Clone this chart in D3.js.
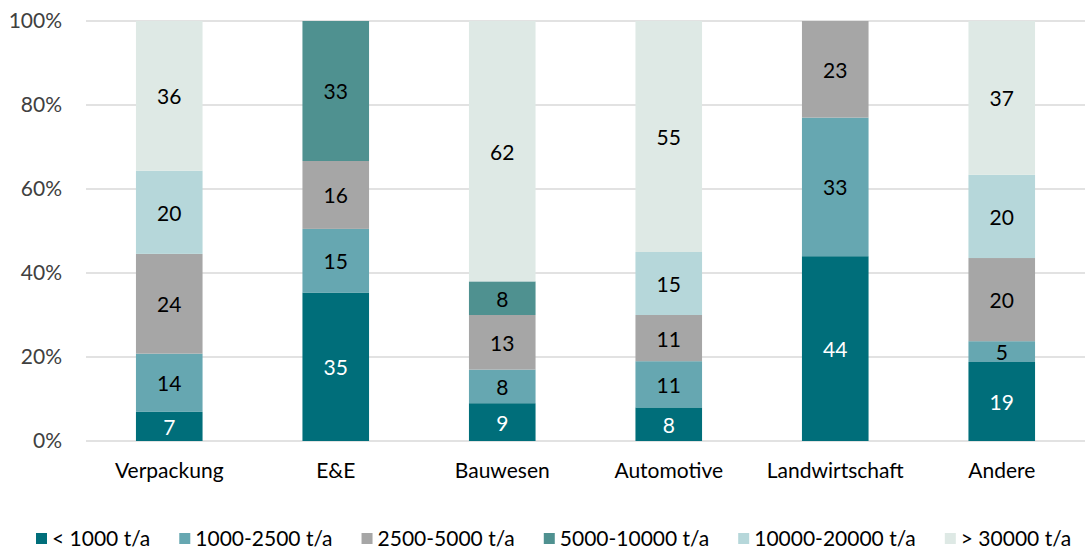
<!DOCTYPE html>
<html>
<head>
<meta charset="utf-8">
<script src="https://cdn.jsdelivr.net/npm/d3@7"></script>
<style>
  html, body { margin: 0; padding: 0; background: #fff; }
  svg { display: block; font-family: Lato, "Open Sans", sans-serif; }
</style>
</head>
<body>
<svg id="chart" width="1085" height="549"></svg>
<script>
// Branchen (x-axis categories)
const categories = ["Verpackung", "E&E", "Bauwesen", "Automotive", "Landwirtschaft", "Andere"];

// Size classes (stack order, bottom to top)
const seriesNames = ["< 1000 t/a", "1000-2500 t/a", "2500-5000 t/a", "5000-10000 t/a", "10000-20000 t/a", "> 30000 t/a"];
const seriesColors = ["#006e7a", "#66a7b1", "#a6a6a6", "#4f9190", "#b6d7da", "#dee9e5"];
const labelColors = ["#ffffff", "#000000", "#000000", "#000000", "#000000", "#000000"];

// Values per size class, one entry per category
const lt1000      = [7, 35, 9, 8, 44, 19];
const r1000_2500  = [14, 15, 8, 11, 33, 5];
const r2500_5000  = [24, 16, 13, 11, 23, 20];
const r5000_10000 = [0, 33, 8, 0, 0, 0];
const r10000_20000 = [20, 0, 0, 15, 0, 20];
const gt30000     = [36, 0, 62, 55, 0, 37];

const yTicks = [0, 0.2, 0.4, 0.6, 0.8, 1.0];

const seriesValues = [lt1000, r1000_2500, r2500_5000, r5000_10000, r10000_20000, gt30000];

// Table for the stack layout, normalized to 100% per category
const rows = categories.map((c, i) => {
  const row = { category: c };
  seriesNames.forEach((s, j) => { row[s] = seriesValues[j][i]; });
  return row;
});

const stacked = d3.stack()
  .keys(seriesNames)
  .offset(d3.stackOffsetExpand)(rows);

const svg = d3.select("#chart");
const margin = { left: 86, right: 0, top: 21, bottom: 108 };
const width = 1085, height = 549;
const fontSize = 21;

const x = d3.scaleBand()
  .domain(categories)
  .range([margin.left, width - margin.right])
  .paddingInner(0.6)
  .paddingOuter(0.3);

const y = d3.scaleLinear()
  .domain([0, 1])
  .range([height - margin.bottom, margin.top]);

// Gridlines
svg.append("g")
  .selectAll("line")
  .data(yTicks)
  .join("line")
  .attr("x1", margin.left)
  .attr("x2", width - margin.right)
  .attr("y1", d => y(d))
  .attr("y2", d => y(d))
  .attr("stroke", "#d9d9d9")
  .attr("stroke-width", 1.3);

// Y axis labels
const yAxis = d3.axisLeft(y)
  .tickValues(yTicks)
  .tickFormat(d3.format(".0%"))
  .tickSize(0)
  .tickPadding(24);
const yg = svg.append("g")
  .attr("transform", `translate(${margin.left},0)`)
  .call(yAxis);
yg.select(".domain").remove();
yg.selectAll("text")
  .attr("font-size", fontSize)
  .attr("font-family", "Lato, sans-serif")
  .attr("fill", "#404040");

// Bars
const layers = svg.append("g")
  .selectAll("g")
  .data(stacked)
  .join("g")
  .attr("fill", (d, i) => seriesColors[i]);

layers.selectAll("rect")
  .data(d => d.filter(p => p.data[d.key] > 0))
  .join("rect")
  .attr("x", d => x(d.data.category))
  .attr("width", x.bandwidth())
  .attr("y", d => y(d[1]))
  .attr("height", d => y(d[0]) - y(d[1]));

// Value labels
stacked.forEach((layer, i) => {
  svg.append("g")
    .selectAll("text")
    .data(layer.filter(p => p.data[layer.key] > 0))
    .join("text")
    .attr("x", d => x(d.data.category) + x.bandwidth() / 2)
    .attr("y", d => (y(d[0]) + y(d[1])) / 2)
    .attr("dy", "0.4em")
    .attr("text-anchor", "middle")
    .attr("font-size", fontSize)
    .attr("fill", labelColors[i])
    .text(d => d.data[layer.key]);
});

// X axis
const xAxis = d3.axisBottom(x).tickSize(0).tickPadding(22);
const xg = svg.append("g")
  .attr("transform", `translate(0,${y(0)})`)
  .call(xAxis);
xg.select(".domain").remove();
xg.selectAll("text")
  .attr("font-size", fontSize)
  .attr("font-family", "Lato, sans-serif")
  .attr("fill", "#000");

// Legend
const legend = svg.append("g").attr("transform", "translate(36,539)");
let lx = 0;
seriesNames.forEach((name, i) => {
  const item = legend.append("g").attr("transform", `translate(${lx},0)`);
  item.append("rect")
    .attr("x", 0).attr("y", -6)
    .attr("width", 11).attr("height", 11)
    .attr("fill", seriesColors[i]);
  const t = item.append("text")
    .attr("x", 16)
    .attr("dy", "0.35em")
    .attr("font-size", fontSize)
    .attr("fill", "#000")
    .text(name);
  lx += 16 + t.node().getComputedTextLength() + 29;
});
</script>
</body>
</html>
